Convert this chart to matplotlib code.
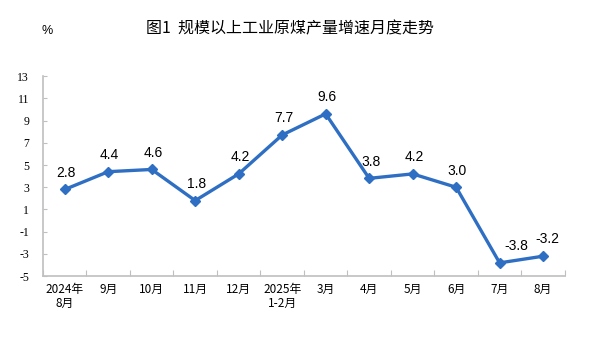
import matplotlib
matplotlib.use('Agg')
import matplotlib.pyplot as plt
import numpy as np

plt.rcParams['font.family'] = ['Noto Sans CJK SC', 'DejaVu Sans']

# 月份与原煤产量同比增速(%)
months = ['2024年\n8月', '9月', '10月', '11月', '12月', '2025年\n1-2月',
          '3月', '4月', '5月', '6月', '7月', '8月']
growth = [2.8, 4.4, 4.6, 1.8, 4.2, 7.7, 9.6, 3.8, 4.2, 3.0, -3.8, -3.2]
yticks = [-5, -3, -1, 1, 3, 5, 7, 9, 11, 13]

line_color = '#2F6FC3'
axis_color = '#BFBFBF'

fig = plt.figure(figsize=(5.89, 3.41), dpi=100)
ax = fig.add_axes([0.073, 0.19, 0.886, 0.587])

x = np.arange(len(months))
ax.plot(x, growth, color=line_color, lw=2.4, marker='D', ms=5.5,
        markeredgecolor=line_color, zorder=3)

# 数据标签
for i, v in enumerate(growth):
    dx = 1
    if i == 10:
        dx = 12
    elif i == 11:
        dx = 3
    ax.annotate(f'{v:.1f}', (i, v), xytext=(dx, 7), textcoords='offset points',
                ha='center', va='bottom', fontsize=10,
                family=['Liberation Sans', 'DejaVu Sans'])

ax.set_xlim(-0.5, len(months) - 0.5)
ax.set_ylim(-5, 13)
ax.set_yticks(yticks)
ax.set_yticklabels([str(t) for t in yticks],
                   family=['Liberation Serif', 'DejaVu Serif'], fontsize=8.5)

# 刻度线放在类别之间
ax.set_xticks(np.arange(len(months) + 1) - 0.5)
ax.set_xticklabels([])
ax.set_xticks(x, minor=True)
ax.set_xticklabels(months, minor=True, fontsize=8.5, linespacing=1.05)
ax.tick_params(axis='x', which='minor', length=0, pad=5)
ax.tick_params(axis='x', which='major', direction='in', length=4,
               color=axis_color)
ax.tick_params(axis='y', direction='in', length=3, color=axis_color, pad=10)

for s in ['top', 'right']:
    ax.spines[s].set_visible(False)
for s in ['left', 'bottom']:
    ax.spines[s].set_color(axis_color)
    ax.spines[s].set_linewidth(1.2)

fig.text(0.492, 0.915, '图1  规模以上工业原煤产量增速月度走势', ha='center',
         va='center', fontsize=11.5)
fig.text(0.08, 0.91, '%', ha='center', va='center', fontsize=9,
         family=['Liberation Sans', 'DejaVu Sans'])

fig.savefig('out.png', dpi=100)
